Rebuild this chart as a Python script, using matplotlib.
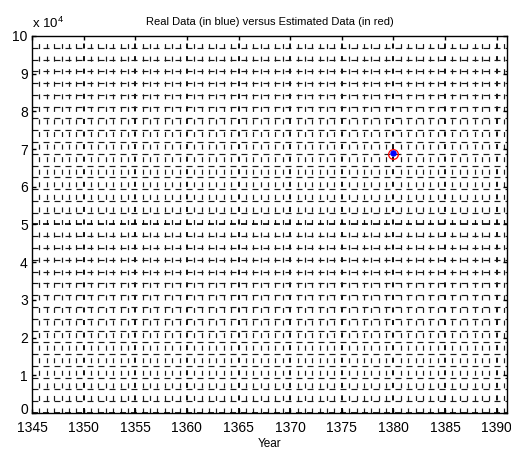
import numpy as np
import matplotlib
matplotlib.use('Agg')
import matplotlib.pyplot as plt
import matplotlib.transforms as mtransforms

plt.rcParams['font.family'] = ['Liberation Sans', 'DejaVu Sans']
plt.rcParams['mathtext.fontset'] = 'custom'
plt.rcParams['mathtext.rm'] = 'Liberation Sans'
plt.rcParams['lines.scale_dashes'] = False

# data
year = [1380]
real_data = [69000]
estimated_data = [68600]

x_ticks = [1345, 1350, 1355, 1360, 1365, 1370, 1375, 1380, 1385, 1390]
y_ticks = [0, 10000, 20000, 30000, 40000, 50000, 60000, 70000, 80000, 90000, 100000]
y_labels = ['0', '1', '2', '3', '4', '5', '6', '7', '8', '9', '10']

W, H, DPI = 511, 454, 100
fig = plt.figure(figsize=(W / DPI, H / DPI), dpi=DPI)
fig.patch.set_facecolor('white')
ax = fig.add_axes([32 / W, 1 - 413 / H, 475 / W, 377 / H])

xmin, xmax = 1345, 1391
ymin, ymax = 0, 100000
ax.set_xlim(xmin, xmax)
ax.set_ylim(ymin, ymax)

pt = 72.0 / DPI
row_px = 377 / 30.0      # vertical dash period
v_on = 5.0

# dotted-looking grid (MATLAB style moire)
gx = np.arange(xmin, xmax + 1e-6, 5 / 7)
for x in gx:
    major = abs((x - 1345) / 5 - round((x - 1345) / 5)) < 1e-6
    ax.plot([x, x], [ymin, ymax], color='black' if major else '#1a1a1a',
            lw=1.3 if major else 0.85,
            linestyle=(0, (v_on * pt, (row_px - v_on) * pt)),
            dash_capstyle='butt', zorder=1)

gy = np.arange(ymin, ymax + 1, 3125)
h_on, h_per = 6.0, 11.0
for y in gy:
    major = abs(y % 10000) < 1
    ax.plot([xmin, xmax], [y, y], color='black' if major else '#1a1a1a',
            lw=1.2 if major else 0.85,
            linestyle=(0, (h_on * pt, (h_per - h_on) * pt)),
            dash_capstyle='butt', zorder=1)

ax.plot(year, estimated_data, 'o', mfc='none', mec='red', ms=7, mew=0.9, zorder=3)
ax.plot(year, real_data, 'o', color='blue', ms=3.6, zorder=4)

ax.set_xticks(x_ticks)
ax.set_yticks(y_ticks)
ax.set_yticklabels(y_labels)
ax.tick_params(direction='in', length=3, width=1, labelsize=10, pad=3,
               top=True, right=True)
ax.tick_params(axis='x', pad=6)
for s in ax.spines.values():
    s.set_linewidth(1.0)

# lift the "0" label a little so it clears "1345"
lbl0 = ax.get_yticklabels()[0]
lbl0.set_transform(lbl0.get_transform() +
                   mtransforms.ScaledTranslation(0, 3 / 72, fig.dpi_scale_trans))

ax.text(0, 1.012, r'x 10$^{4}$', transform=ax.transAxes, fontsize=9.5,
        ha='left', va='bottom')
ax.set_title('Real Data (in blue) versus Estimated Data (in red)',
             fontsize=8, pad=8)
ax.set_xlabel('Year', fontsize=8.5, labelpad=2)

fig.savefig('out.png', dpi=DPI)
